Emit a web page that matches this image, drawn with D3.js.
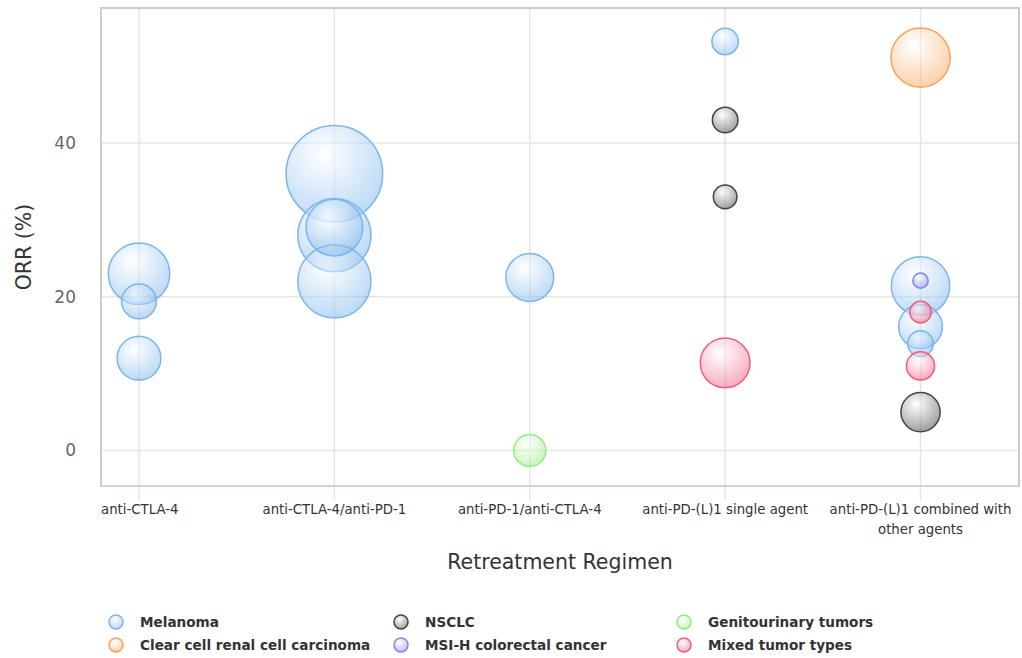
<!DOCTYPE html>
<html>
<head>
<meta charset="utf-8">
<script src="https://cdn.jsdelivr.net/npm/d3@7"></script>
<style>
  body { margin: 0; background: #fff; font-family: "DejaVu Sans", sans-serif; }
</style>
</head>
<body>
<svg id="misvg" width="1022" height="658"></svg>
<script>
const categories = ["anti-CTLA-4", "anti-CTLA-4/anti-PD-1", "anti-PD-1/anti-CTLA-4",
  "anti-PD-(L)1 single agent", "anti-PD-(L)1 combined with other agents"];
const seriesNames = ["Melanoma", "NSCLC", "Genitourinary tumors",
  "Clear cell renal cell carcinoma", "MSI-H colorectal cancer", "Mixed tumor types"];
const seriesColors = ["#7cb5ec", "#434348", "#90ed7d", "#f7a35c", "#8085e9", "#f15c80"];
const yTicks = [0, 20, 40];

// [category index, ORR %, bubble size]
const melanoma = [[0, 23, 81], [0, 19.4, 26], [0, 12, 41],
  [1, 36, 200], [1, 28, 115], [1, 29, 69], [1, 22, 115],
  [2, 22.5, 49], [3, 53.2, 15],
  [4, 21.4, 73], [4, 16.1, 41], [4, 13.9, 14]];
const nsclc = [[3, 43, 14], [3, 33, 12], [4, 5, 33]];
const genitourinary = [[2, 0, 22]];
const clearCell = [[4, 51.1, 75]];
const msiH = [[4, 22.1, 5]];
const mixed = [[3, 11.4, 53], [4, 18, 10], [4, 11, 17]];
const seriesData = [melanoma, nsclc, genitourinary, clearCell, msiH, mixed];

const margin = { top: 8, right: 3, bottom: 172, left: 101 };
const width = 1022 - margin.left - margin.right;
const height = 658 - margin.top - margin.bottom;

const svg = d3.select("#misvg");
const defs = svg.append("defs");
seriesColors.forEach((c, i) => {
  const g = defs.append("radialGradient").attr("id", "grad" + i)
    .attr("cx", 0.4).attr("cy", 0.3).attr("r", 0.7);
  g.append("stop").attr("offset", 0).attr("stop-color", "#fff").attr("stop-opacity", 0.5);
  g.append("stop").attr("offset", 1).attr("stop-color", c).attr("stop-opacity", 0.5);
});

const chart = svg.append("g")
  .attr("transform", "translate(" + margin.left + "," + margin.top + ")");

const x = d3.scaleLinear().domain([-0.1945, 4.504]).range([0, width]);
const y = d3.scaleLinear().domain([-4.62, 57.56]).range([height, 0]);
const r = d3.scaleSqrt().domain([0, 200]).range([0, 48.3]);

// grid
chart.selectAll(".hgrid").data(yTicks).enter().append("line")
  .attr("x1", 0).attr("x2", width)
  .attr("y1", d => y(d)).attr("y2", d => y(d))
  .attr("stroke", "#e6e6e6").attr("stroke-width", 1.5);
chart.selectAll(".vgrid").data(categories).enter().append("line")
  .attr("x1", (d, i) => x(i)).attr("x2", (d, i) => x(i))
  .attr("y1", 0).attr("y2", height + 14)
  .attr("stroke", "#e1e5ee").attr("stroke-width", 1.5);

// frame
chart.append("rect").attr("width", width).attr("height", height)
  .attr("fill", "none").attr("stroke", "#cccccc").attr("stroke-width", 2);
chart.append("line").attr("x1", 0).attr("x2", width).attr("y1", height).attr("y2", height)
  .attr("stroke", "#ccd6eb").attr("stroke-width", 1.5);

// y labels
chart.selectAll(".ylab").data(yTicks).enter().append("text")
  .attr("x", -25).attr("y", d => y(d)).attr("dy", "0.35em")
  .attr("text-anchor", "end").attr("font-size", 17).attr("fill", "#666")
  .text(d => d);

// x labels
const xLabels = chart.selectAll(".xlab").data(categories).enter().append("text")
  .attr("font-size", 13.3).attr("fill", "#333")
  .attr("text-anchor", (d, i) => i === 0 ? "start" : "middle")
  .attr("x", (d, i) => i === 0 ? 0 : x(i))
  .attr("y", height + 28);
xLabels.each(function(d, i) {
  const t = d3.select(this);
  const lines = i === 4 ? ["anti-PD-(L)1 combined with", "other agents"] : [d];
  lines.forEach((l, k) => {
    t.append("tspan").attr("x", i === 0 ? 0 : x(i)).attr("dy", k === 0 ? 0 : 20).text(l);
  });
});

// axis titles
chart.append("text").attr("x", width / 2).attr("y", height + 83)
  .attr("text-anchor", "middle").attr("font-size", 20.5).attr("fill", "#333")
  .text("Retreatment Regimen");
svg.append("text").attr("transform", "translate(31,247) rotate(-90)")
  .attr("text-anchor", "middle").attr("font-size", 20.5).attr("fill", "#333")
  .text("ORR (%)");

// bubbles
seriesData.forEach((data, si) => {
  const sorted = data.slice().sort((a, b) => b[2] - a[2]);
  chart.append("g").selectAll("circle").data(sorted).enter().append("circle")
    .attr("cx", d => x(d[0])).attr("cy", d => y(d[1])).attr("r", d => r(d[2]))
    .attr("fill", "url(#grad" + si + ")")
    .attr("stroke", seriesColors[si]).attr("stroke-width", 1.5);
});

// legend
const legX = [116, 401, 684];
const legY = [622, 645];
const legend = svg.selectAll(".leg").data(seriesNames).enter().append("g")
  .attr("transform", (d, i) => "translate(" + legX[i % 3] + "," + legY[Math.floor(i / 3)] + ")");
legend.append("circle").attr("r", 7)
  .attr("fill", (d, i) => "url(#grad" + i + ")")
  .attr("stroke", (d, i) => seriesColors[i]).attr("stroke-width", 1.5);
legend.append("text").attr("x", 24).attr("dy", "0.35em")
  .attr("font-size", 13.6).attr("font-weight", "bold").attr("fill", "#333")
  .text(d => d);
</script>
</body>
</html>
